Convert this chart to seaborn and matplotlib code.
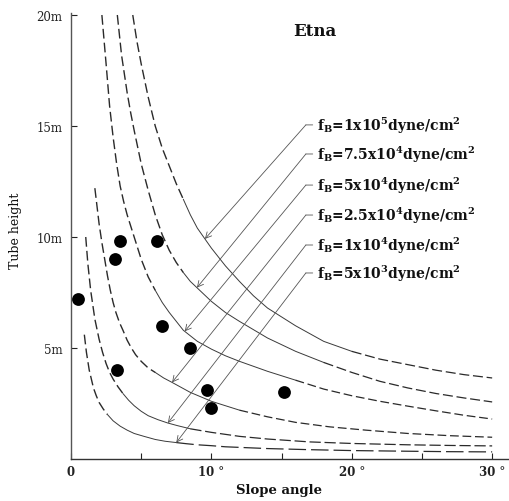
import numpy as np
import pandas as pd
import matplotlib
matplotlib.use("Agg")
import matplotlib.pyplot as plt
import seaborn as sns

# Observed lava-tube heights (m) against slope angle (degrees)
obs_angle = [0.5, 3.5, 3.1, 6.1, 6.5, 8.5, 3.3, 9.7, 10.0, 15.2]
obs_height = [7.2, 9.8, 9.0, 9.8, 6.0, 5.0, 4.0, 3.1, 2.3, 3.0]

# Yield-strength curves (slope angle, tube height) for each f_B
c1_angle = [4.4, 4.7, 5.0, 5.5, 6.0, 6.5, 7.0, 7.5, 8.0, 8.5, 9.0, 9.5, 10.0, 11.0, 12.0, 13.0, 14.0,
            16.0, 18.0, 20.0, 22.0, 24.0, 26.0, 28.0, 30.0]
c1_height = [20.0, 18.8, 17.8, 16.3, 15.0, 14.0, 13.2, 12.4, 11.7, 11.0, 10.4, 9.95, 9.5, 8.7, 8.0, 7.35, 6.8,
             6.0, 5.3, 4.85, 4.5, 4.25, 4.0, 3.8, 3.65]

c2_angle = [3.3, 3.6, 4.0, 4.25, 4.5, 5.0, 5.5, 6.0, 6.5, 7.0, 7.5, 8.0, 8.5, 9.0, 10.0, 11.0, 12.0, 14.0,
            16.0, 18.0, 20.0, 22.0, 24.0, 26.0, 28.0, 30.0]
c2_height = [20.0, 18.2, 16.5, 15.6, 14.8, 13.3, 12.1, 11.0, 10.1, 9.4, 8.85, 8.4, 8.0, 7.7, 7.1, 6.6, 6.2, 5.45,
             4.85, 4.35, 3.9, 3.5, 3.2, 2.95, 2.75, 2.57]

c3_angle = [2.2, 2.5, 2.75, 3.0, 3.25, 3.5, 3.75, 4.0, 4.5, 5.0, 5.5, 6.0, 6.5, 7.0, 8.0, 9.0, 10.0, 11.0,
            12.0, 14.0, 16.0, 18.0, 20.0, 22.0, 24.0, 26.0, 28.0, 30.0]
c3_height = [20.0, 17.8, 15.9, 14.5, 13.3, 12.3, 11.6, 11.0, 10.0, 9.0, 8.2, 7.6, 7.05, 6.6, 5.8, 5.3, 4.95, 4.65,
             4.4, 3.95, 3.55, 3.15, 2.85, 2.6, 2.38, 2.17, 1.97, 1.8]

c4_angle = [1.7, 2.0, 2.2, 2.4, 2.6, 2.8, 3.0, 3.2, 3.45, 3.7, 4.0, 4.3, 4.6, 5.0, 5.5, 6.0, 6.6, 7.2, 8.5,
            10.0, 12.0, 14.0, 16.0, 18.4, 21.0, 24.0, 27.0, 30.0]
c4_height = [12.2, 10.6, 9.75, 9.0, 8.25, 7.6, 7.05, 6.6, 6.15, 5.8, 5.35, 5.0, 4.7, 4.4, 4.1, 3.9, 3.65, 3.45, 3.0,
             2.6, 2.2, 1.9, 1.65, 1.45, 1.3, 1.15, 1.05, 0.98]

c5_angle = [1.05, 1.2, 1.4, 1.7, 2.0, 2.25, 2.5, 2.75, 3.0, 3.35, 3.7, 4.1, 4.5, 5.0, 5.5, 6.2, 6.9, 7.6, 8.5,
            10.0, 12.0, 14.0, 17.0, 20.0, 24.0, 27.0, 30.0]
c5_height = [10.0, 8.8, 7.6, 6.3, 5.4, 4.8, 4.3, 3.9, 3.6, 3.25, 2.95, 2.65, 2.4, 2.15, 1.95, 1.77, 1.62, 1.5, 1.36,
             1.2, 1.02, 0.9, 0.77, 0.7, 0.64, 0.61, 0.59]

c6_angle = [0.95, 1.1, 1.3, 1.6, 1.8, 2.0, 2.3, 2.6, 3.0, 3.5, 4.0, 4.5, 5.2, 6.0, 6.7, 7.5, 8.2, 9.0, 10.0,
            11.0, 12.5, 14.0, 17.0, 20.0, 24.0, 27.0, 30.0]
c6_height = [5.6, 4.8, 4.0, 3.2, 2.85, 2.55, 2.25, 2.0, 1.72, 1.48, 1.3, 1.15, 1.02, 0.88, 0.8, 0.74, 0.69, 0.64, 0.6,
             0.55, 0.51, 0.47, 0.42, 0.38, 0.35, 0.33, 0.32]

curve_labels = [
    r"f$_{\mathbf{B}}$=1x10$^{\mathbf{5}}$dyne/cm$^{\mathbf{2}}$",
    r"f$_{\mathbf{B}}$=7.5x10$^{\mathbf{4}}$dyne/cm$^{\mathbf{2}}$",
    r"f$_{\mathbf{B}}$=5x10$^{\mathbf{4}}$dyne/cm$^{\mathbf{2}}$",
    r"f$_{\mathbf{B}}$=2.5x10$^{\mathbf{4}}$dyne/cm$^{\mathbf{2}}$",
    r"f$_{\mathbf{B}}$=1x10$^{\mathbf{4}}$dyne/cm$^{\mathbf{2}}$",
    r"f$_{\mathbf{B}}$=5x10$^{\mathbf{3}}$dyne/cm$^{\mathbf{2}}$",
]

x_ticks = [0, 5, 10, 15, 20, 25, 30]
x_tick_labels = ["0", "", "10 °", "", "20 °", "", "30 °"]
y_ticks = [5, 10, 15, 20]
y_tick_labels = ["5m", "10m", "15m", "20m"]

curves = [
    (c1_angle, c1_height), (c2_angle, c2_height), (c3_angle, c3_height),
    (c4_angle, c4_height), (c5_angle, c5_height), (c6_angle, c6_height),
]

# Angles where each curve switches from dashed (steep part) to solid, and back to dashed
style_breaks = [(8.0, 20.0), (8.0, 18.0), (6.0, 16.0), (6.0, 12.0), (3.7, 8.5), (2.6, 7.5)]
right_dashes = [(8, 3), (8, 3), (7, 3), (7, 3), (9, 3), (14, 4)]
# Angle at which each label's leader arrow meets its curve
arrow_angle = [9.54, 8.97, 8.1, 7.2, 6.9, 7.5]
label_height = [15.05, 13.74, 12.34, 10.99, 9.64, 8.38]

sns.set_theme(style="ticks")
plt.rcParams["font.family"] = ["DejaVu Serif", "DejaVu Sans"]
plt.rcParams["mathtext.fontset"] = "custom"
plt.rcParams["mathtext.rm"] = "DejaVu Serif:bold"
plt.rcParams["mathtext.bf"] = "DejaVu Serif:bold"
plt.rcParams["mathtext.it"] = "DejaVu Serif:bold"

fig = plt.figure(figsize=(5.09, 5.02), dpi=100)
ax = fig.add_axes([71 / 509, 42 / 502, 438 / 509, 446.2 / 502])

line_color = "#2a2a2a"
for (ang, hgt), (b1, b2), rdash in zip(curves, style_breaks, right_dashes):
    df = pd.DataFrame({"angle": ang, "height": hgt})
    top = df[df.angle <= b1]
    mid = df[(df.angle >= b1) & (df.angle <= b2)]
    right = df[df.angle >= b2]
    sns.lineplot(data=top, x="angle", y="height", ax=ax, color=line_color,
                 lw=1.0, linestyle=(0, (7, 3)), sort=False, estimator=None)
    sns.lineplot(data=mid, x="angle", y="height", ax=ax, color="#3a3a3a",
                 lw=0.7, sort=False, estimator=None)
    sns.lineplot(data=right, x="angle", y="height", ax=ax, color=line_color,
                 lw=0.9, linestyle=(0, rdash), sort=False, estimator=None)

sns.scatterplot(x=obs_angle, y=obs_height, ax=ax, color="black", s=85,
                linewidth=0, zorder=5)

# Leader lines from each label to its curve
corner_x = 16.73
text_x = 17.55
for (ang, hgt), lab, a_ang, ly in zip(curves, curve_labels, arrow_angle, label_height):
    tip_h = float(np.interp(a_ang, ang, hgt))
    ax.annotate("", xy=(a_ang, tip_h), xytext=(corner_x, ly),
                arrowprops=dict(arrowstyle="->,head_length=0.35,head_width=0.18",
                                color="#555555", lw=0.6, shrinkA=0, shrinkB=0))
    ax.annotate(lab, xy=(corner_x, ly), xytext=(text_x, ly), ha="left", va="center",
                fontsize=10, fontweight="bold", color="#111111",
                arrowprops=dict(arrowstyle="-", color="#555555", lw=0.6,
                                shrinkA=1, shrinkB=0))

ax.set_xlim(0, 31.2)
ax.set_ylim(0, 20.1)
ax.set_xticks(x_ticks)
ax.set_xticklabels(x_tick_labels, fontsize=8.5, fontweight="bold")
ax.set_yticks(y_ticks)
ax.set_yticklabels(y_tick_labels, fontsize=8.5)
ax.tick_params(axis="x", direction="in", length=4, width=0.8, pad=4, colors="#222222")
ax.tick_params(axis="y", direction="in", length=4, width=0.8, pad=6, colors="#222222")
ax.set_xlabel("")
ax.set_ylabel("")
sns.despine(ax=ax)
ax.spines["left"].set_color("#555555")
ax.spines["left"].set_linewidth(1.0)
ax.spines["bottom"].set_color("#333333")
ax.spines["bottom"].set_linewidth(1.0)
ax.set_facecolor("white")

fig.text(315 / 509, 1 - 32 / 502, "Etna", ha="center", va="center",
         fontsize=12, fontweight="bold", color="#111111")
fig.text(279 / 509, 1 - 491 / 502, "Slope angle", ha="center", va="center",
         fontsize=9.5, fontweight="bold", color="#111111")
fig.text(16 / 509, 1 - 231 / 502, "Tube height", ha="center", va="center",
         rotation=90, fontsize=9, color="#111111")

fig.savefig("out.png", dpi=100, facecolor="white")
